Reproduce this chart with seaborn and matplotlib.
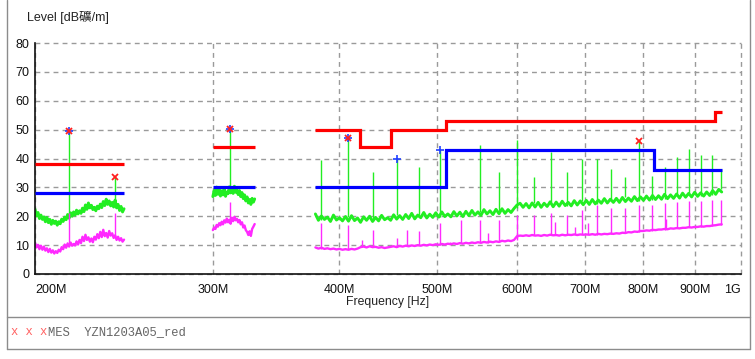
import numpy as np
import pandas as pd
import matplotlib
matplotlib.use('Agg')
import matplotlib.pyplot as plt
import seaborn as sns
from matplotlib.lines import Line2D
from matplotlib.ticker import NullLocator, FixedLocator

# ---- sweep segments (MHz) ----
seg_start = [200, 300, 379]
seg_stop = [245, 330, 957]

# peak detector trace (green)
green_1 = [22.5, 20.1, 21.3, 19.2, 20.4, 18.9, 19.8, 18.1, 19.6, 17.8, 18.9, 17.2, 18.6, 17.5, 18.3,
           16.9, 18.1, 17.4, 19.0, 18.2, 19.7, 18.8, 20.6, 19.3, 21.2, 20.0, 21.5, 20.4, 22.1, 20.8,
           21.9, 21.0, 22.8, 21.6, 23.9, 22.4, 24.6, 22.9, 23.8, 22.3, 23.1, 21.9, 23.5, 22.6, 24.2,
           23.0, 25.1, 23.7, 25.9, 24.1, 25.3, 23.6, 24.8, 23.2, 25.6, 22.9, 24.1, 22.0, 23.4, 21.5, 22.6]
green_2 = [26.8, 28.9, 27.2, 30.1, 27.6, 29.3, 27.0, 28.8, 27.4, 29.6, 26.9, 28.4, 27.8, 30.2, 28.1,
           29.5, 27.9, 30.4, 28.3, 29.1, 27.5, 28.9, 26.8, 28.2, 26.1, 27.4, 25.3, 26.7, 24.6, 25.8,
           24.1, 26.2, 24.9, 26.0]
green_3 = [20.8, 18.6, 20.1, 18.9, 19.7, 18.2, 20.4, 18.7, 19.5, 18.4,
           19.9, 18.3, 20.2, 18.5, 19.4, 17.9, 19.8, 18.6, 20.0, 18.2,
           19.6, 18.4, 20.3, 18.8, 19.5, 18.6, 20.5, 19.0, 20.2, 18.9,
           20.6, 19.2, 21.0, 19.1, 20.4, 19.5, 21.3, 19.4, 20.7, 19.6,
           21.2, 19.7, 21.5, 19.9, 20.8, 19.8, 21.6, 20.1, 21.4, 19.9,
           21.7, 20.2, 22.0, 20.4, 21.5, 20.3, 22.3, 20.8, 21.9, 20.6,
           22.4, 20.9, 22.6, 21.0, 22.3, 21.3, 22.7, 23.9, 24.5, 23.1,
           24.4, 22.9, 24.6, 23.2, 24.8, 23.1, 24.5, 23.4, 25.0, 23.3,
           24.9, 23.5, 25.2, 23.7, 24.8, 23.6, 25.4, 23.9, 25.3, 24.0,
           25.5, 24.1, 25.8, 24.3, 25.6, 24.5, 26.1, 24.6, 25.9, 24.8,
           26.2, 24.8, 26.5, 25.1, 26.3, 25.2, 26.8, 25.4, 26.7, 25.5,
           27.0, 25.6, 27.2, 25.8, 27.1, 25.9, 27.6, 26.1, 27.4, 26.2,
           27.7, 26.3, 28.0, 26.6, 27.9, 26.7, 28.3, 26.9, 28.1, 27.0,
           28.4, 27.2, 28.9, 27.6, 29.3, 28.4]

# average detector trace (magenta)
magenta_1 = [10.8, 9.2, 10.1, 8.6, 9.8, 8.4, 9.5, 8.1, 8.9, 7.6, 8.7, 7.4, 8.2, 7.1, 7.9,
             7.3, 8.4, 7.8, 9.3, 8.6, 10.2, 9.1, 10.6, 9.5, 10.9, 9.8, 10.4, 9.9, 11.3, 10.2,
             11.8, 10.7, 12.9, 11.4, 13.6, 11.8, 12.7, 11.2, 12.3, 11.0, 12.9, 11.9, 13.8, 12.4, 14.6,
             12.8, 15.3, 13.1, 14.2, 12.6, 14.9, 13.3, 14.1, 12.5, 13.4, 11.8, 12.9, 11.6, 12.4, 11.2, 11.9]
magenta_2 = [15.2, 16.1, 15.6, 17.0, 16.4, 17.6, 16.9, 18.1, 17.2, 18.6, 17.8, 19.2, 17.9, 18.8, 17.4,
             19.5, 18.3, 19.8, 18.6, 19.1, 17.9, 18.7, 17.2, 17.9, 16.1, 16.8, 15.2, 14.6, 13.5, 14.8,
             13.2, 15.6, 16.4, 17.3]
magenta_3 = [9.2, 8.8, 9.1, 8.7, 8.9, 8.6, 8.8, 8.5, 8.7, 8.4,
             8.6, 8.4, 8.7, 8.5, 8.8, 9.3, 9.5, 9.2, 9.6, 9.3,
             9.4, 9.1, 9.3, 9.0, 9.2, 9.4, 9.6, 9.3, 9.7, 9.5,
             9.8, 9.6, 9.9, 9.7, 10.0, 9.8, 10.1, 9.9, 10.2, 10.0,
             10.3, 10.1, 10.4, 10.2, 10.5, 10.3, 10.6, 10.4, 10.7, 10.5,
             10.8, 10.6, 10.9, 10.7, 11.0, 10.8, 11.1, 10.9, 11.2, 11.0,
             11.3, 11.1, 11.5, 11.3, 11.6, 11.4, 11.8, 13.1, 13.3, 13.2,
             13.4, 13.2, 13.5, 13.3, 13.4, 13.2, 13.5, 13.3, 13.6, 13.4,
             13.5, 13.3, 13.6, 13.4, 13.6, 13.5, 13.7, 13.5, 13.7, 13.6,
             13.7, 13.6, 13.8, 13.6, 13.9, 13.7, 13.9, 13.8, 14.0, 13.9,
             14.1, 14.0, 14.3, 14.2, 14.5, 14.4, 14.7, 14.6, 14.9, 14.9,
             15.1, 15.0, 15.3, 15.2, 15.4, 15.4, 15.6, 15.5, 15.8, 15.7,
             15.9, 15.8, 16.0, 16.0, 16.2, 16.1, 16.3, 16.3, 16.5, 16.4,
             16.6, 16.6, 16.8, 16.9, 17.1, 17.2]

# narrowband peaks (MHz, dB)
green_peak_freq = [216, 240, 312, 384, 408, 432, 456, 480, 504, 552, 576, 600, 624, 648,
                   672, 696, 720, 744, 768, 792, 816, 840, 864, 888, 912, 936, 956]
green_peak_level = [49.5, 33.5, 50.3, 39.5, 47.0, 35.4, 39.7, 37.2, 43.0, 44.7, 35.4, 46.4, 33.7, 42.4,
                    35.4, 40.0, 40.0, 36.2, 33.7, 46.2, 33.9, 37.2, 40.6, 43.2, 41.2, 41.2, 36.2]
magenta_peak_freq = [216, 240, 312, 384, 408, 421, 432, 456, 467, 480, 504, 515, 528, 552, 562, 576,
                     600, 624, 648, 655, 672, 685, 696, 706, 720, 744, 768, 792, 816, 840, 843,
                     864, 888, 912, 936, 956]
magenta_peak_level = [21.0, 21.0, 25.0, 17.6, 17.0, 11.8, 15.2, 12.5, 15.2, 15.0, 17.6, 11.2, 18.7, 18.7,
                      14.2, 18.7, 20.4, 20.4, 21.0, 18.0, 20.4, 16.4, 22.0, 17.6, 23.9, 23.0, 23.0,
                      23.9, 24.0, 24.6, 19.0, 25.0, 25.3, 25.3, 25.5, 25.6]

# limit lines
red_edges = [[200, 245], [300, 330], [379, 420, 450, 510, 943, 957]]
red_levels = [[38], [44], [50, 44, 50, 53, 56]]
blue_edges = [[200, 245], [300, 330], [379, 510, 820, 957]]
blue_levels = [[28], [30], [30, 43, 36]]

# final measurement markers
mes_x_freq = [216, 240, 312, 408, 792]
mes_x_level = [49.5, 33.5, 50.3, 47.0, 46.2]
mes_plus_freq = [216, 312, 408, 456, 504]
mes_plus_level = [49.5, 50.3, 47.0, 39.7, 43.0]

x_ticks = [200, 300, 400, 500, 600, 700, 800, 900, 1000]
x_tick_labels = ['200M', '300M', '400M', '500M', '600M', '700M', '800M', '900M', '1G']
y_ticks = [0, 10, 20, 30, 40, 50, 60, 70, 80]


def build_trace(segments, peak_f, peak_v):
    # sweep points per segment; each peak rises from the sweep point just before it
    parts, spikes = [], []
    for k, (f0, f1, vals) in enumerate(segments):
        f = np.geomspace(f0, f1, len(vals))
        parts.append(pd.DataFrame({'freq': f, 'level': vals, 'seg': k}))
        for pf, pv in zip(peak_f, peak_v):
            if f0 <= pf <= f1:
                i = int(np.searchsorted(f, pf, side='right')) - 1
                spikes.append((pf, vals[max(i, 0)], pv))
    return pd.concat(parts, ignore_index=True), spikes


green_df, green_spikes = build_trace(zip(seg_start, seg_stop, [green_1, green_2, green_3]),
                                     green_peak_freq, green_peak_level)
magenta_df, magenta_spikes = build_trace(zip(seg_start, seg_stop, [magenta_1, magenta_2, magenta_3]),
                                         magenta_peak_freq, magenta_peak_level)

sns.set_theme(style='white')
plt.rcParams['font.family'] = ['Liberation Sans', 'Noto Sans CJK JP']

fig = plt.figure(figsize=(7.55, 3.59), dpi=100)
ax = fig.add_axes([35 / 755, 1 - 274 / 359, 706 / 755, 231 / 359])
ax.set_xscale('log')

green = '#22ee22'
magenta = '#ff2aff'
sns.lineplot(data=green_df, x='freq', y='level', units='seg', estimator=None,
             color=green, lw=2.1, ax=ax)
ax.vlines([s[0] for s in green_spikes], [s[1] for s in green_spikes],
          [s[2] for s in green_spikes], color=green, lw=1.0)
sns.lineplot(data=magenta_df, x='freq', y='level', units='seg', estimator=None,
             color=magenta, lw=1.7, ax=ax)
ax.vlines([s[0] for s in magenta_spikes], [s[1] for s in magenta_spikes],
          [s[2] for s in magenta_spikes], color=magenta, lw=1.0)

for e, v in zip(red_edges, red_levels):
    ax.stairs(v, e, baseline=None, color='#ff0000', lw=2.3, zorder=4)
for e, v in zip(blue_edges, blue_levels):
    ax.stairs(v, e, baseline=None, color='#0000ff', lw=2.3, zorder=4)

ax.plot(mes_plus_freq, mes_plus_level, ls='none', marker='+', ms=6, mew=1.2,
        color='#2040ff', zorder=5)
ax.plot(mes_x_freq, mes_x_level, ls='none', marker='x', ms=5, mew=1.3,
        color='#ff2020', zorder=6)

ax.set_xlim(200, 1000)
ax.set_ylim(0, 80)
ax.xaxis.set_major_locator(FixedLocator(x_ticks))
ax.xaxis.set_minor_locator(NullLocator())
ax.set_xticklabels(x_tick_labels)
ax.set_yticks(y_ticks)
ax.set_xlabel('')
ax.set_ylabel('')
ax.tick_params(axis='both', length=0, labelsize=9, colors='#111111')
ax.tick_params(axis='x', pad=7)
ax.tick_params(axis='y', pad=4)
labels = ax.get_xticklabels()
labels[0].set_ha('left')
labels[-1].set_ha('right')

ax.grid(True, color='#9a9a9a', lw=1.0, ls=(0, (3.5, 3)))
for gl in ax.get_xgridlines() + ax.get_ygridlines():
    gl.set_clip_on(False)
ax.spines['top'].set_visible(False)
ax.spines['right'].set_visible(False)
for s in ['left', 'bottom']:
    ax.spines[s].set_color('#111111')
    ax.spines[s].set_linewidth(1.2)
ax.set_facecolor('white')

fig.text(27 / 755, 1 - 17 / 359, 'Level [dB礦/m]', fontsize=9, color='#222222',
         ha='left', va='center')
fig.text(388 / 755, 1 - 302 / 359, 'Frequency [Hz]', fontsize=8.8, color='#222222',
         ha='center', va='center')

# outer frame and legend strip
frame = dict(transform=fig.transFigure, color='#8c8c8c', lw=1.0)
x0, x1 = 7 / 755, 750 / 755
yb, ysep = 1 - 349 / 359, 1 - 317 / 359
fig.add_artist(Line2D([x0, x0], [yb, 1.0], **frame))
fig.add_artist(Line2D([x1, x1], [yb, 1.0], **frame))
fig.add_artist(Line2D([x0, x1], [yb, yb], **frame))
fig.add_artist(Line2D([x0, x1], [ysep, ysep], **frame))

fig.text(11 / 755, 1 - 332 / 359, 'x x x', family='Liberation Mono', fontsize=8.7,
         color='#ff6060', ha='left', va='center')
fig.text(47.5 / 755, 1 - 332 / 359, 'MES  YZN1203A05_red', family='Liberation Mono',
         fontsize=8.7, color='#666666', ha='left', va='center')

fig.savefig('out.png', dpi=100, facecolor='white')
